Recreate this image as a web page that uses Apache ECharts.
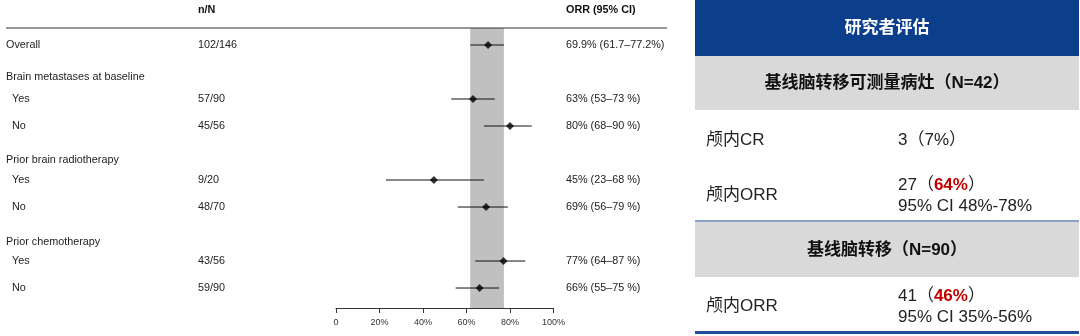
<!DOCTYPE html>
<html><head><meta charset="utf-8">
<script src="https://cdn.jsdelivr.net/npm/echarts@6/dist/echarts.min.js"></script>
<style>html,body{margin:0;padding:0;background:#fff}#c{width:1080px;height:336px}</style>
</head><body><div id="c"></div>
<script>
// ---- forest plot data ----
const rowLabels = ['Overall','Brain metastases at baseline','Yes','No','Prior brain radiotherapy','Yes','No','Prior chemotherapy','Yes','No'];
const rowIsHeader = [false,true,false,false,true,false,false,true,false,false];
const rowPos = [0,1.2,2,3,4.25,5,6,7.3,8,9];
const nN = ['102/146','','57/90','45/56','','9/20','48/70','','43/56','59/90'];
const orrText = ['69.9% (61.7\u201377.2%)','','63% (53\u201373 %)','80% (68\u201390 %)','','45% (23\u201368 %)','69% (56\u201379 %)','','77% (64\u201387 %)','66% (55\u201375 %)'];
const orrEst = [69.9,null,63,80,null,45,69,null,77,66];
const ciLow  = [61.7,null,53,68,null,23,56,null,64,55];
const ciHigh = [77.2,null,73,90,null,68,79,null,87,75];
const bandLow = 61.7, bandHigh = 77.2;
const xTicks = [0,20,40,60,80,100];
const colHeaders = {label:'', nN:'n/N', orr:'ORR (95% CI)'};

// ---- table data ----
const tableTitle = '研究者评估';
const section1 = '基线脑转移可测量病灶（N=42）';
const s1rows = [
  {label:'颅内CR', pre:'3（7%）', red:'', post:'', sub:''},
  {label:'颅内ORR', pre:'27（', red:'64%', post:'）', sub:'95% CI 48%-78%'}
];
const section2 = '基线脑转移（N=90）';
const s2rows = [
  {label:'颅内ORR', pre:'41（', red:'46%', post:'）', sub:'95% CI 35%-56%'}
];

const chart = echarts.init(document.getElementById('c'), null, {renderer:'canvas'});
const FONT = '"Liberation Sans", Arial, sans-serif';
const CJK = '"Liberation Sans", Arial, "Noto Sans CJK SC", sans-serif';
const FS = '10.8px ';

const pts = [], cis = [], txt = [];
rowLabels.forEach((l,i)=>{
  txt.push([0,rowPos[i],i]);
  if (orrEst[i]!=null){ pts.push([orrEst[i],rowPos[i]]); cis.push([ciLow[i],ciHigh[i],rowPos[i]]); }
});

const GRID = {left:336, width:217.5, top:28, height:280};
const yMin = -0.63, yMax = 9.74;

const tableGraphics = [];
const TX = 695, TW = 384;
tableGraphics.push({type:'rect',shape:{x:TX,y:0,width:TW,height:56},style:{fill:'#0b3f8c'}});
tableGraphics.push({type:'text',x:TX+TW/2,y:28,style:{text:tableTitle,fill:'#fff',font:'bold 17px '+CJK,align:'center',verticalAlign:'middle'}});
tableGraphics.push({type:'rect',shape:{x:TX,y:56,width:TW,height:54},style:{fill:'#d9d9d9'}});
tableGraphics.push({type:'text',x:TX+TW/2,y:83,style:{text:section1,fill:'#111',font:'bold 17px '+CJK,align:'center',verticalAlign:'middle'}});
function valueRow(r, yLabel, yTop, yBottom){
  tableGraphics.push({type:'text',x:706,y:yLabel,style:{text:r.label,fill:'#222',font:'17px '+CJK,align:'left',verticalAlign:'middle'}});
  tableGraphics.push({type:'text',x:898,y:r.sub?yTop:yLabel,style:{
    text:'{n|'+r.pre+'}'+(r.red?'{r|'+r.red+'}{n|'+r.post+'}':''),
    align:'left',verticalAlign:'middle',
    rich:{n:{font:'17px '+CJK,fill:'#222'},r:{font:'bold 17px '+CJK,fill:'#c00000'}}}});
  if (r.sub) tableGraphics.push({type:'text',x:898,y:yBottom,style:{text:r.sub,fill:'#222',font:'17px '+CJK,align:'left',verticalAlign:'middle'}});
}
valueRow(s1rows[0],140,140,140);
valueRow(s1rows[1],195,185,206);
tableGraphics.push({type:'rect',shape:{x:TX,y:220,width:TW,height:2},style:{fill:'#8aa3c9'}});
tableGraphics.push({type:'rect',shape:{x:TX,y:222,width:TW,height:55},style:{fill:'#d9d9d9'}});
tableGraphics.push({type:'text',x:TX+TW/2,y:250,style:{text:section2,fill:'#111',font:'bold 17px '+CJK,align:'center',verticalAlign:'middle'}});
valueRow(s2rows[0],306,296,317);
tableGraphics.push({type:'rect',shape:{x:TX,y:331,width:TW,height:3},style:{fill:'#1f4e9a'}});

chart.setOption({
  animation:false,
  grid:GRID,
  xAxis:{type:'value',min:0,max:100,interval:20,
    axisLine:{show:true,onZero:false,lineStyle:{color:'#333',width:1}},
    axisTick:{show:true,length:5,lineStyle:{color:'#333'}},
    splitLine:{show:false},
    axisLabel:{color:'#333',fontSize:9,fontFamily:FONT,margin:10,formatter:v=>v===0?'0':v+'%'}},
  yAxis:{type:'value',inverse:true,min:yMin,max:yMax,show:false},
  graphic:[
    {type:'line',shape:{x1:6,y1:28,x2:667,y2:28},style:{stroke:'#333',lineWidth:1.2},z:10},
    {type:'text',x:198,y:10,style:{text:colHeaders.nN,font:'bold '+FS+FONT,fill:'#111',verticalAlign:'middle'}},
    {type:'text',x:566,y:10,style:{text:colHeaders.orr,font:'bold '+FS+FONT,fill:'#111',verticalAlign:'middle'}},
    ...tableGraphics
  ],
  series:[
    {type:'custom',data:cis,z:3,
      renderItem:(p,api)=>{
        const a=api.coord([api.value(0),api.value(2)]), b=api.coord([api.value(1),api.value(2)]);
        return {type:'line',shape:{x1:a[0],y1:a[1],x2:b[0],y2:b[1]},style:{stroke:'#111',lineWidth:1}};
      },
      markArea:{silent:true,itemStyle:{color:'#c0c0c0'},data:[[{xAxis:bandLow},{xAxis:bandHigh}]]}
    },
    {type:'scatter',data:pts,symbol:'diamond',symbolSize:8,itemStyle:{color:'#000'},z:4},
    {type:'custom',data:txt,clip:false,z:5,
      renderItem:(p,api)=>{
        const i=api.value(2); const y=api.coord([0,api.value(1)])[1];
        const children=[{type:'text',x:rowIsHeader[i]||i===0?6:12,y:y,style:{text:rowLabels[i],font:FS+FONT,fill:'#222',verticalAlign:'middle'}}];
        if(nN[i]) children.push({type:'text',x:198,y:y,style:{text:nN[i],font:FS+FONT,fill:'#222',verticalAlign:'middle'}});
        if(orrText[i]) children.push({type:'text',x:566,y:y,style:{text:orrText[i],font:FS+FONT,fill:'#222',verticalAlign:'middle'}});
        return {type:'group',children};
      }}
  ]
});
</script></body></html>
